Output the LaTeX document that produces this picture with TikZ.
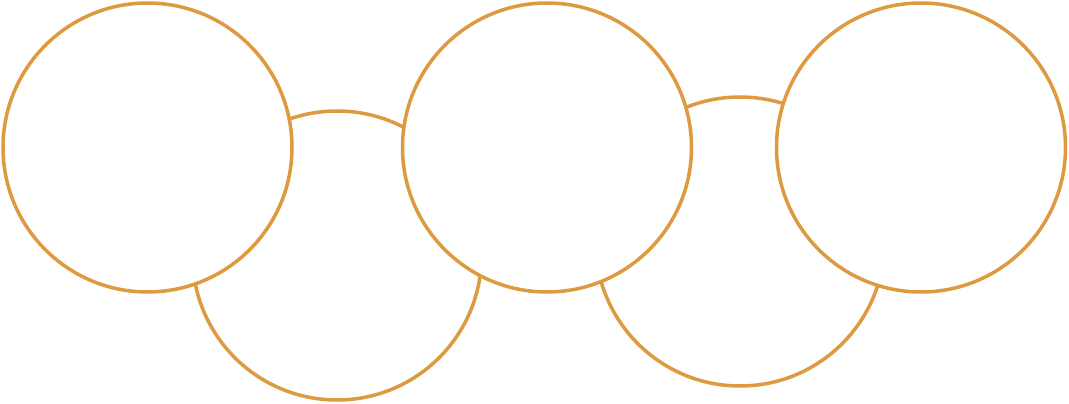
\documentclass[tikz,border=0pt]{standalone}
\definecolor{ringorange}{RGB}{221,154,64}
\begin{document}
\begin{tikzpicture}[x=1pt,y=-1pt,
        ring/.style={circle,draw=ringorange,fill=white,line width=3.5pt,
            minimum size=289pt,inner sep=0pt}]
    \useasboundingbox (0,0) rectangle (1069,404);
    % lower rings first, upper rings cover them
	\node[ring] (low1) at (337,255.5) {};
	\node[ring] (low2) at (740,241.5) {};

	\node[ring] (top1) at (147.5,147.5) {};
	\node[ring] (top2) at (547,147.5) {};
	\node[ring] (top3) at (921,147.5) {};
\end{tikzpicture}
\end{document}
